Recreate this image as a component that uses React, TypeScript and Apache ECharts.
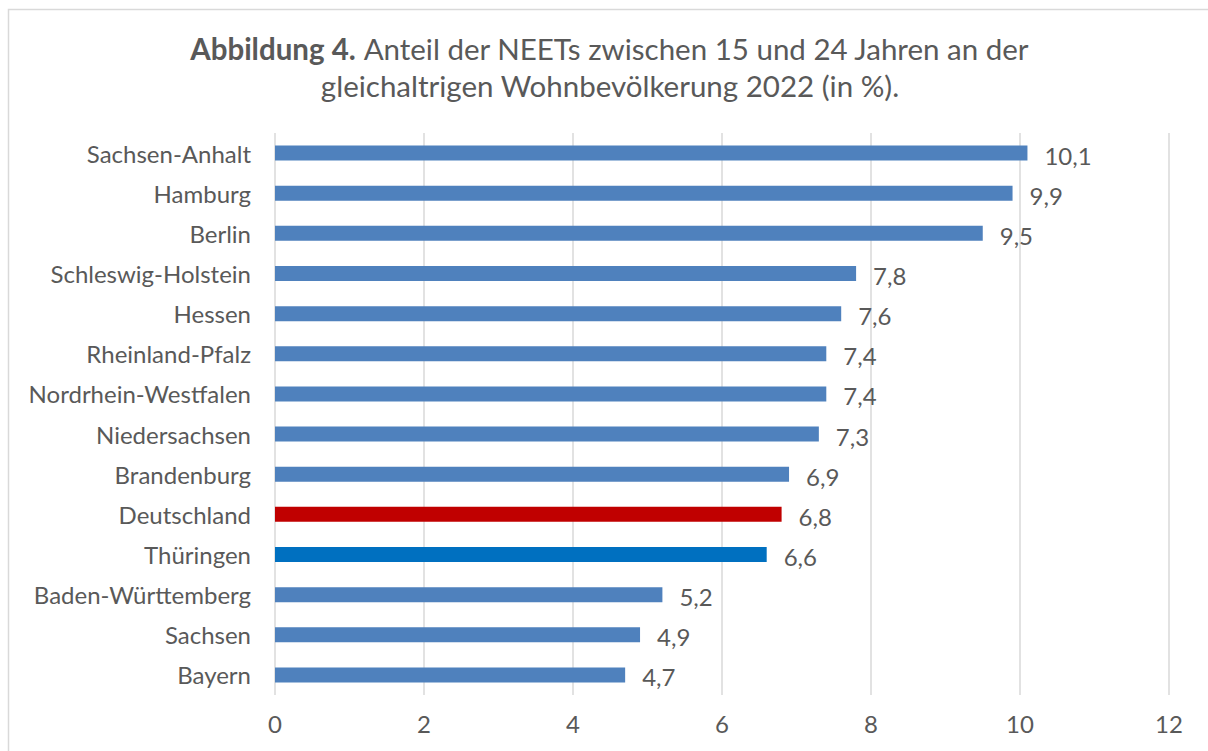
import React, { useEffect, useRef } from "react";
import * as echarts from "echarts";

const categories = [
  "Sachsen-Anhalt",
  "Hamburg",
  "Berlin",
  "Schleswig-Holstein",
  "Hessen",
  "Rheinland-Pfalz",
  "Nordrhein-Westfalen",
  "Niedersachsen",
  "Brandenburg",
  "Deutschland",
  "Thüringen",
  "Baden-Württemberg",
  "Sachsen",
  "Bayern",
];
const values = [10.1, 9.9, 9.5, 7.8, 7.6, 7.4, 7.4, 7.3, 6.9, 6.8, 6.6, 5.2, 4.9, 4.7];
const xTicks = [0, 2, 4, 6, 8, 10, 12];
const titleBold = "Abbildung 4.";
const titleLine1 = " Anteil der NEETs zwischen 15 und 24 Jahren an der";
const titleLine2 = "gleichaltrigen Wohnbevölkerung 2022 (in %).";

const colorFor = (name: string) =>
  name === "Deutschland" ? "#c00000" : name === "Thüringen" ? "#0070c0" : "#4f81bd";

export default function App() {
  const ref = useRef<HTMLDivElement>(null);
  useEffect(() => {
    document.body.style.overflow = "hidden";
    const chart = echarts.init(ref.current!, undefined, { renderer: "svg" });
    const font = "Lato";
    const txt = "#595959";
    chart.setOption({
      animation: false,
      textStyle: { fontFamily: font },
      graphic: [
        {
          type: "rect",
          shape: { x: 8.5, y: 9.5, width: 1230, height: 780 },
          style: { fill: "none", stroke: "#d9d9d9", lineWidth: 1.5 },
          silent: true,
        },
        {
          type: "text",
          x: 610,
          y: 48,
          style: {
            text: "{b|" + titleBold + "}{n|" + titleLine1 + "}",
            align: "center",
            verticalAlign: "middle",
            rich: {
              b: { fontFamily: font, fontSize: 29.5, fontWeight: "bold", fill: txt },
              n: { fontFamily: font, fontSize: 29.5, fill: txt },
            },
          },
        },
        {
          type: "text",
          x: 610,
          y: 85,
          style: {
            text: titleLine2,
            align: "center",
            verticalAlign: "middle",
            fontFamily: font,
            fontSize: 29.5,
            fill: txt,
          },
        },
      ],
      grid: { left: 275, right: 39, top: 133, bottom: 56, containLabel: false },
      xAxis: {
        type: "value",
        min: xTicks[0],
        max: xTicks[xTicks.length - 1],
        interval: 2,
        axisLine: { show: false },
        axisTick: { show: false },
        splitLine: { show: true, lineStyle: { color: "#d9d9d9", width: 1.5 } },
        axisLabel: { color: txt, fontSize: 24, fontFamily: font, margin: 16 },
      },
      yAxis: {
        type: "category",
        data: categories,
        inverse: true,
        axisLine: { show: false },
        axisTick: { show: false },
        axisLabel: { color: txt, fontSize: 24, fontFamily: font, margin: 24 },
      },
      series: [
        {
          type: "bar",
          barWidth: 15,
          data: values.map((v, i) => ({ value: v, itemStyle: { color: colorFor(categories[i]) } })),
          label: {
            show: true,
            position: "right",
            distance: 17,
            color: txt,
            fontSize: 24,
            fontFamily: font,
            offset: [0, 2],
            formatter: (p: any) => String(p.value).replace(".", ","),
          },
        },
      ],
    });
    return () => chart.dispose();
  }, []);
  return (
    <div
      ref={ref}
      style={{ position: "fixed", left: 0, top: 0, width: 1208, height: 751, background: "#fff" }}
    />
  );
}
